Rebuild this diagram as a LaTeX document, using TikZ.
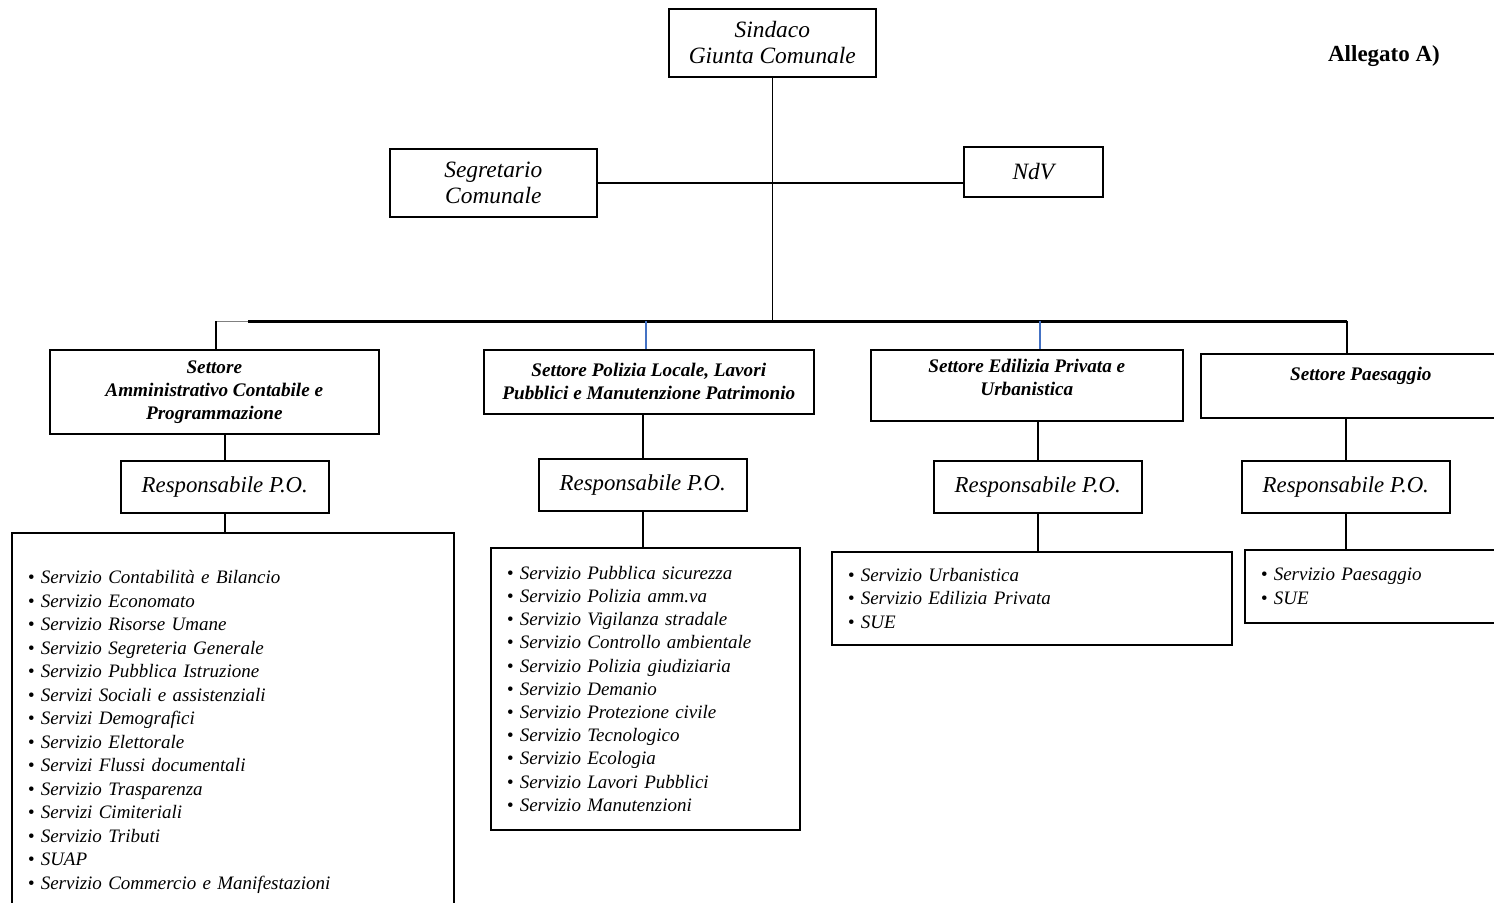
\documentclass[tikz,border=0pt]{standalone}
\usepackage{fontspec}
\setmainfont{Liberation Serif}
\definecolor{tickblue}{RGB}{68,114,196}
\tikzstyle{box}=[draw,line width=0.8pt,anchor=north west,align=center,inner sep=0pt]
\tikzstyle{capo}=[box,font=\fontsize{11.7}{13}\selectfont\itshape]
\tikzstyle{settore}=[box,font=\fontsize{9.6}{11.5}\selectfont\bfseries\itshape]
\tikzstyle{resp}=[box,minimum width=104pt,minimum height=26pt,font=\fontsize{11.4}{13}\selectfont\itshape]
\tikzstyle{lista}=[draw,line width=0.8pt,anchor=north west,align=left,inner xsep=8pt,inner ysep=0pt,font=\fontsize{9.5}{11.75}\selectfont\itshape]
\tikzstyle{edge} = [draw,line width=0.8pt,-]
\tikzstyle{tick} = [draw,line width=0.6pt,tickblue,-]
\newcommand{\vc}{\textbullet\ }

\begin{document}
\begin{tikzpicture}[x=0.5pt,y=-0.5pt]
    \useasboundingbox (0,0) rectangle (1494,902);
    \clip (0,0) rectangle (1494,902);
    % Top of the chart
    \node[capo,minimum width=103.5pt,minimum height=34pt] (sindaco) at (668,8) {Sindaco\\Giunta Comunale};
    \node[capo,minimum width=103.5pt,minimum height=34pt] (segretario) at (389,148) {Segretario\\Comunale};
    \node[capo,minimum width=69.5pt,minimum height=25pt] (ndv) at (963,146) {NdV};
    \node[font=\fontsize{11.5}{13}\selectfont\bfseries] (allegato) at (1384,56) {Allegato A)};
    % The four sectors
    \node[settore,minimum width=164.5pt,minimum height=42pt] (s1) at (49,349) {Settore\\Amministrativo Contabile e\\Programmazione};
    \node[settore,minimum width=165pt,minimum height=32pt] (s2) at (483,349) {Settore Polizia Locale, Lavori\\Pubblici e Manutenzione Patrimonio};
    \node[settore,minimum width=156pt,minimum height=35.5pt] (s3) at (870,349) {Settore Edilizia Privata e\\Urbanistica\\[-4pt]\mbox{}};
    \node[settore,minimum width=160pt,minimum height=32pt] (s4) at (1200,353) {Settore Paesaggio\\\mbox{}};
    % Responsabili
    \foreach \pos/\name in {{(120,460)/r1}, {(538,458)/r2}, {(933,460)/r3}, {(1241,460)/r4}}
        \node[resp] (\name) at \pos {Responsabile P.O.};
    % Lists of services
    \node[lista,text width=205pt,minimum height=199pt] (l1) at (11,532) {\vc Servizio Contabilità e Bilancio\\\vc Servizio Economato\\\vc Servizio Risorse Umane\\\vc Servizio Segreteria Generale\\\vc Servizio Pubblica Istruzione\\\vc Servizi Sociali e assistenziali\\\vc Servizi Demografici\\\vc Servizio Elettorale\\\vc Servizi Flussi documentali\\\vc Servizio Trasparenza\\\vc Servizi Cimiteriali\\\vc Servizio Tributi\\\vc SUAP\\\vc Servizio Commercio e Manifestazioni};
    \node[lista,text width=138.5pt,minimum height=141pt,font=\fontsize{9.5}{11.6}\selectfont\itshape] (l2) at (490,547) {\vc Servizio Pubblica sicurezza\\\vc Servizio Polizia amm.va\\\vc Servizio Vigilanza stradale\\\vc Servizio Controllo ambientale\\\vc Servizio Polizia giudiziaria\\\vc Servizio Demanio\\\vc Servizio Protezione civile\\\vc Servizio Tecnologico\\\vc Servizio Ecologia\\\vc Servizio Lavori Pubblici\\\vc Servizio Manutenzioni};
    \node[lista,text width=184pt,minimum height=46.5pt] (l3) at (831,551) {\vc Servizio Urbanistica\\\vc Servizio Edilizia Privata\\\vc SUE};
    \node[lista,text width=117pt,minimum height=36.5pt] (l4) at (1244,549) {\vc Servizio Paesaggio\\\vc SUE};
    % Connect the boxes
    \coordinate (b1) at (216,321);
    \coordinate (bk) at (248,321);
    \coordinate (b2) at (646,321);
    \coordinate (b3) at (1040,321);
    \coordinate (b4) at (1347,321);
    \path[edge] (sindaco.south) -- (sindaco.south |- b1);
    \path[edge] (segretario.east) -- (segretario.east -| ndv.west);
    \draw[gray,line width=0.5pt] (b1) -- (bk);
    \path[edge,line width=1.5pt] (bk) -- (b4);
    \path[edge] (b1) -- (b1 |- s1.north);
    \path[tick] (b2) -- (b2 |- s2.north);
    \path[tick] (b3) -- (b3 |- s3.north);
    \path[edge] (b4) -- (b4 |- s4.north);
    \foreach \source/\resp/\dest in {s1/r1/l1, s2/r2/l2, s3/r3/l3, s4/r4/l4} {
        \path[edge] (\resp.north |- \source.south) -- (\resp.north);
        \path[edge] (\resp.south) -- (\resp.south |- \dest.north);
    }
\end{tikzpicture}
\end{document}
